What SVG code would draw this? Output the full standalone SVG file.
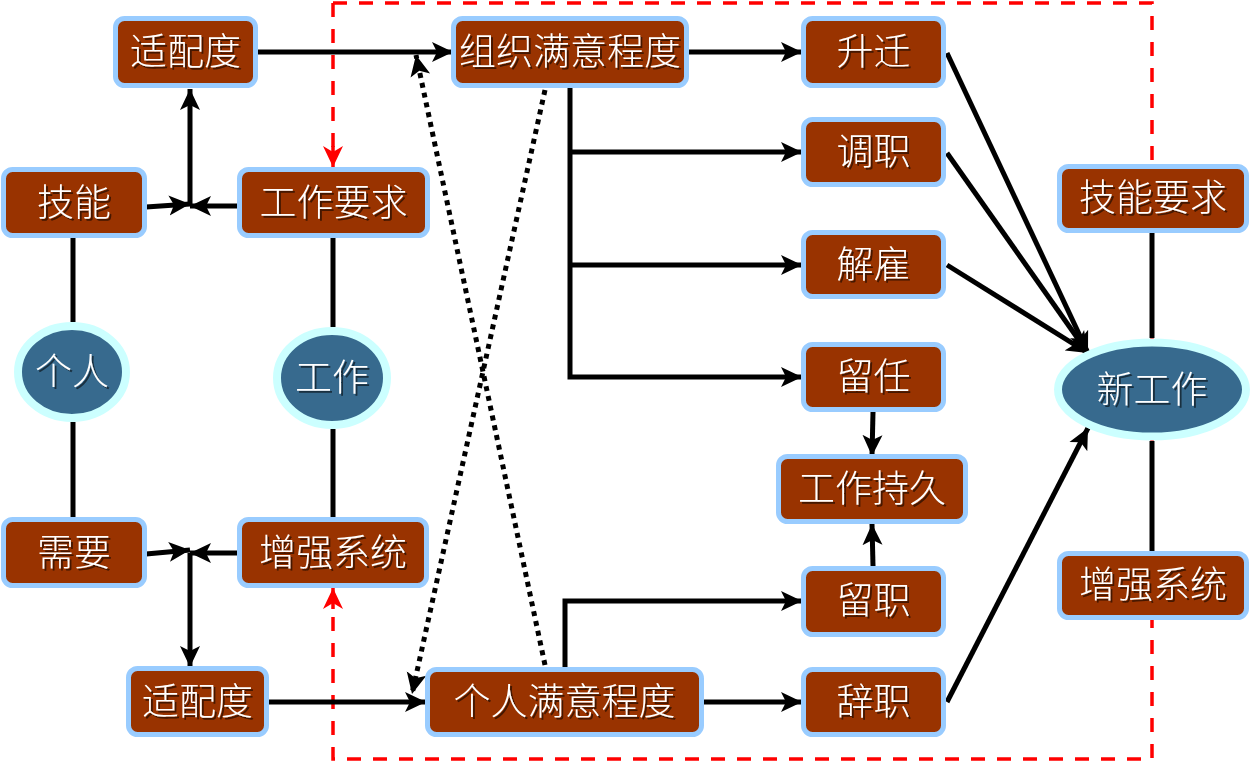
<svg xmlns="http://www.w3.org/2000/svg" width="1255" height="762" viewBox="0 0 1255 762">
<style>
.box{fill:#993300;stroke:#99CCFF;stroke-width:5}
.ell{fill:#376A8E;stroke:#CCFFFF;stroke-width:8}
.t{fill:#fff;font-family:"Noto Sans CJK SC","Noto Sans",sans-serif;font-size:37px;font-weight:300;text-anchor:middle;filter:url(#sh)}
.ln{fill:none;stroke:#000;stroke-width:5}
.ar{marker-end:url(#ah)}
.dot{fill:none;stroke:#000;stroke-width:5;stroke-dasharray:5 5;marker-end:url(#ah)}
.red{fill:none;stroke:#FF0000;stroke-width:3.5;stroke-dasharray:14 12}
</style>
<defs>
<filter id="sh" x="-10%" y="-10%" width="130%" height="140%">
<feDropShadow dx="2" dy="2" stdDeviation="0.7" flood-color="#000" flood-opacity="0.55"/>
</filter>
<marker id="ah" markerUnits="userSpaceOnUse" markerWidth="24" markerHeight="22" viewBox="0 0 24 22" refX="21" refY="11" orient="auto">
<path d="M0,1 L21,11 L0,21 L5,11 Z" fill="#000"/>
</marker>
<marker id="rah" markerUnits="userSpaceOnUse" markerWidth="24" markerHeight="22" viewBox="0 0 24 22" refX="21" refY="11" orient="auto">
<path d="M0,1 L21,11 L0,21 L6,11 Z" fill="#FF0000"/>
</marker>
</defs>

<g id="connectors">
<path class="red" d="M333,3 H1152 V759 H333 V607"/>
<path class="red" d="M333,3 V150"/>
<path d="M333,146 V167" fill="none" stroke="#FF0000" stroke-width="3.5" marker-end="url(#rah)"/>
<path d="M333,609 V588" fill="none" stroke="#FF0000" stroke-width="3.5" marker-end="url(#rah)"/>

<path class="ln ar" d="M146,207 L190,204"/>
<path class="ln ar" d="M238,206 L190,206"/>
<path class="ln ar" d="M190,206 V89"/>
<path class="ln ar" d="M258,52 H453"/>
<path class="ln" d="M73,238 V322"/>
<path class="ln" d="M73,422 V517"/>
<path class="ln" d="M333,238 V327"/>
<path class="ln" d="M333,429 V517"/>
<path class="ln ar" d="M146,554 L190,550"/>
<path class="ln ar" d="M238,553 L190,553"/>
<path class="ln ar" d="M190,553 V667"/>
<path class="ln ar" d="M269,702 H426"/>
<path class="dot" d="M545,665 L416,55"/>
<path class="dot" d="M545,90 L412,694"/>
<path class="ln ar" d="M689,52 H802"/>
<path class="ln ar" d="M570,88 V377 H802"/>
<path class="ln ar" d="M570,152 H802"/>
<path class="ln ar" d="M570,265 H802"/>
<path class="ln ar" d="M873,412 L872,456"/>
<path class="ln ar" d="M873,566 L872,524"/>
<path class="ln ar" d="M565,667 V601 H802"/>
<path class="ln ar" d="M704,702 H802"/>
<path class="ln ar" d="M947,53 L1088,353"/>
<path class="ln ar" d="M947,153 L1088,353"/>
<path class="ln ar" d="M947,265 L1088,353"/>
<path class="ln ar" d="M947,702 L1088,428"/>
<path class="ln" d="M1152,233 V338"/>
<path class="ln" d="M1152,441 V551"/>
</g>

<g id="fit-top"><rect class="box" x="115.5" y="18.5" width="140" height="67" rx="9"/><text class="t" x="185.5" y="65">适配度</text></g>
<g id="skill"><rect class="box" x="3.5" y="169.5" width="141" height="66" rx="9"/><text class="t" x="74" y="216">技能</text></g>
<g id="job-req"><rect class="box" x="239.5" y="169.5" width="188" height="66" rx="9"/><text class="t" x="333.5" y="216">工作要求</text></g>
<g id="person"><ellipse class="ell" cx="72" cy="372" rx="54" ry="46"/><text class="t" x="72" y="385">个人</text></g>
<g id="job"><ellipse class="ell" cx="332" cy="378" rx="55" ry="47"/><text class="t" x="332" y="391">工作</text></g>
<g id="need"><rect class="box" x="3.5" y="519.5" width="141" height="66" rx="9"/><text class="t" x="74" y="566">需要</text></g>
<g id="reinforce-left"><rect class="box" x="239.5" y="519.5" width="187" height="66" rx="9"/><text class="t" x="333" y="566">增强系统</text></g>
<g id="fit-bottom"><rect class="box" x="128.5" y="668.5" width="138" height="66" rx="9"/><text class="t" x="197.5" y="715">适配度</text></g>
<g id="org-sat"><rect class="box" x="453.5" y="18.5" width="233" height="67" rx="9"/><text class="t" x="570" y="65">组织满意程度</text></g>
<g id="promote"><rect class="box" x="803.5" y="18.5" width="140" height="67" rx="9"/><text class="t" x="873.5" y="65">升迁</text></g>
<g id="transfer"><rect class="box" x="803.5" y="119.5" width="140" height="65" rx="9"/><text class="t" x="873.5" y="165">调职</text></g>
<g id="fire"><rect class="box" x="803.5" y="232.5" width="140" height="64" rx="9"/><text class="t" x="873.5" y="278">解雇</text></g>
<g id="retain"><rect class="box" x="803.5" y="344.5" width="140" height="65" rx="9"/><text class="t" x="873.5" y="390">留任</text></g>
<g id="tenure"><rect class="box" x="778.5" y="456.5" width="187" height="65" rx="9"/><text class="t" x="872" y="502">工作持久</text></g>
<g id="stay"><rect class="box" x="803.5" y="568.5" width="140" height="66" rx="9"/><text class="t" x="873.5" y="614">留职</text></g>
<g id="resign"><rect class="box" x="803.5" y="669.5" width="140" height="65" rx="9"/><text class="t" x="873.5" y="715">辞职</text></g>
<g id="ind-sat"><rect class="box" x="427.5" y="669.5" width="274" height="65" rx="9"/><text class="t" x="564.5" y="715">个人满意程度</text></g>
<g id="skill-req"><rect class="box" x="1059.5" y="166.5" width="187" height="64" rx="9"/><text class="t" x="1153" y="211">技能要求</text></g>
<g id="new-job"><ellipse class="ell" cx="1152" cy="389.5" rx="94" ry="47"/><text class="t" x="1152" y="403">新工作</text></g>
<g id="reinforce-right"><rect class="box" x="1059.5" y="553.5" width="187" height="64" rx="9"/><text class="t" x="1153" y="598">增强系统</text></g>
</svg>
